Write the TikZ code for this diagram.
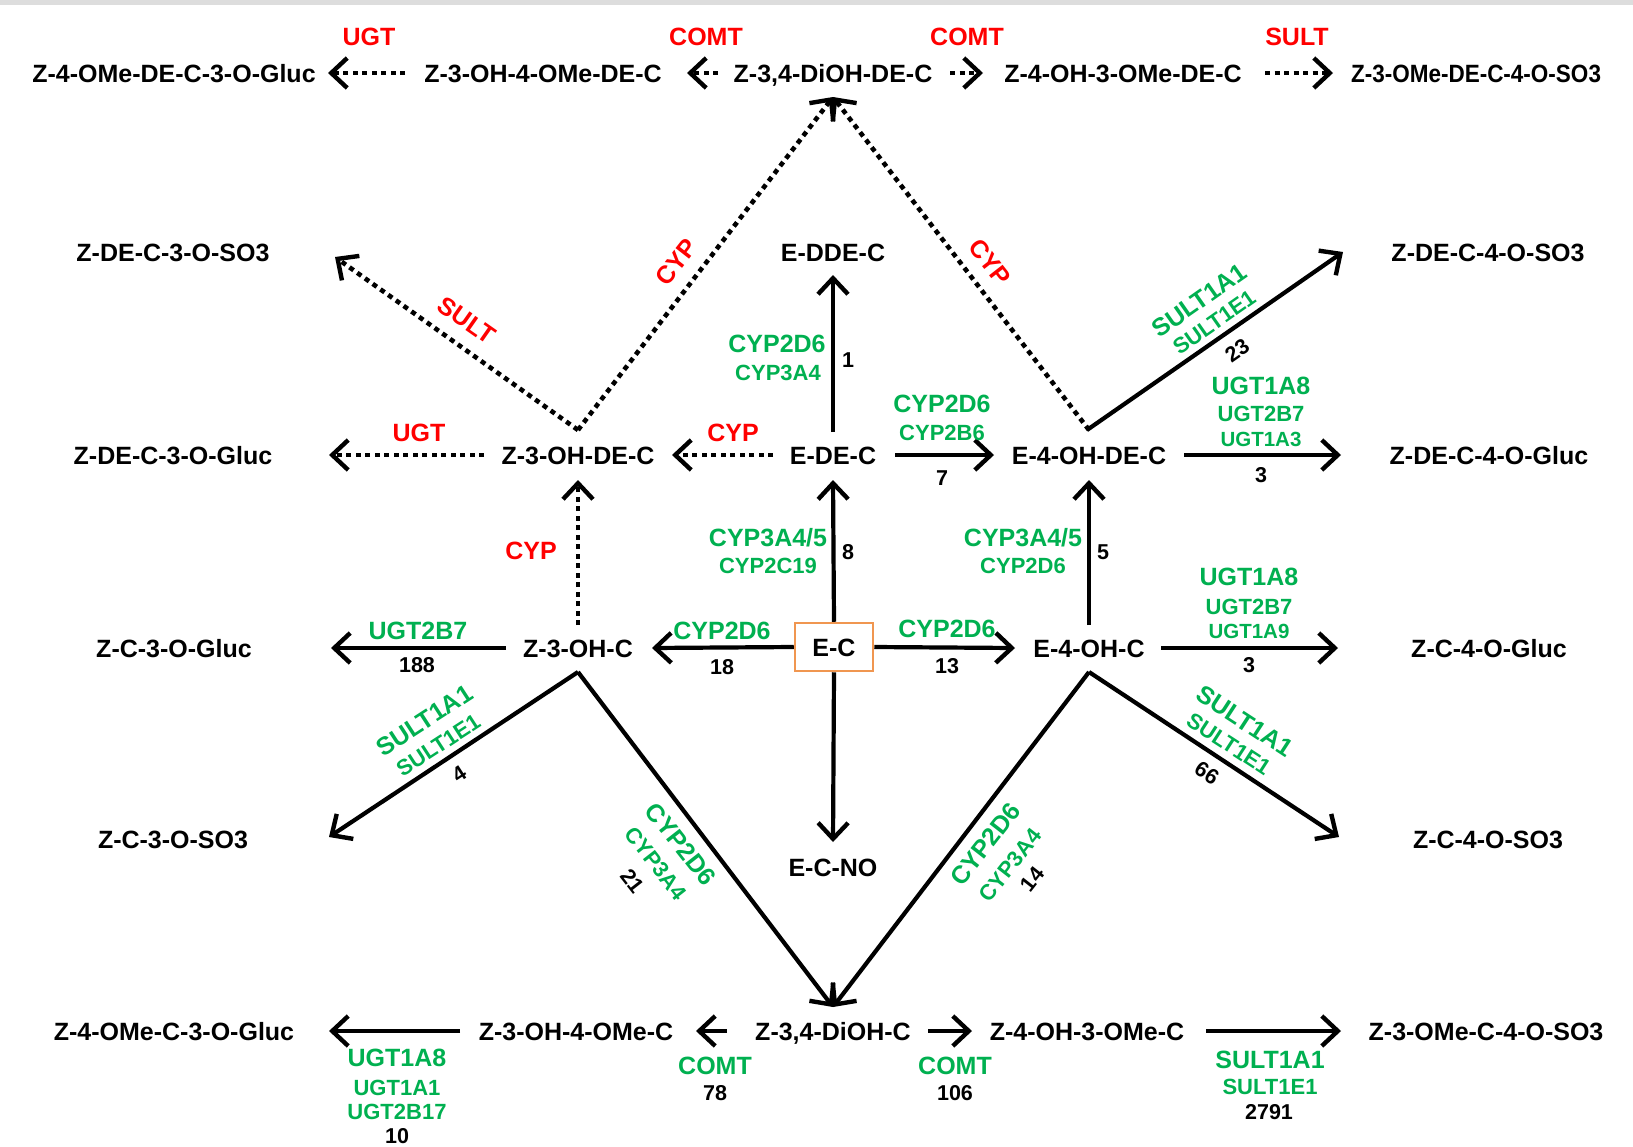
\documentclass[tikz,border=0pt]{standalone}
\usepackage{fontspec}
\setmainfont{Liberation Sans}
\usetikzlibrary{arrows.meta,calc}
\definecolor{enzgreen}{RGB}{0,176,80}
\definecolor{enzred}{RGB}{255,0,0}
\definecolor{boxorange}{RGB}{240,150,80}
\definecolor{bandgray}{RGB}{221,221,221}
\begin{document}
\begin{tikzpicture}[x=1pt,y=-1pt,
  met/.style={font=\bfseries\fontsize{25}{25}\selectfont, inner sep=0pt, text height=18pt, text depth=0pt},
  enzA/.style={font=\bfseries\fontsize{25}{25}\selectfont, text=enzgreen, inner sep=0pt, text height=18pt, text depth=0pt},
  enzB/.style={font=\bfseries\fontsize{22}{22}\selectfont, text=enzgreen, inner sep=0pt, text height=16pt, text depth=0pt},
  enzC/.style={font=\bfseries\fontsize{20.5}{20.5}\selectfont, text=enzgreen, inner sep=0pt, text height=15pt, text depth=0pt},
  fam/.style={font=\bfseries\fontsize{25}{25}\selectfont, text=enzred, inner sep=0pt, text height=18pt, text depth=0pt},
  num/.style={font=\bfseries\fontsize{21.5}{21.5}\selectfont, inner sep=0pt, text height=15.5pt, text depth=0pt},
  arr/.style={line width=4.2pt, -{Straight Barb[length=16pt,width=30pt,line width=4.4pt]}},
  darr/.style={arr, line width=4.6pt, dash pattern=on 5pt off 4.5pt}]
\useasboundingbox (0,0) rectangle (1633,1146);
\fill[bandgray] (0,0) rectangle (1633,5);

% ---- metabolites ----
\node[met] (tgluc)  at (174,73)  {Z-4-OMe-DE-C-3-O-Gluc};
\node[met] (tohome) at (543,73)  {Z-3-OH-4-OMe-DE-C};
\node[met] (tdioh)  at (833,73)  {Z-3,4-DiOH-DE-C};
\node[met] (tohmeo) at (1123,73) {Z-4-OH-3-OMe-DE-C};
\node[met] (tso3)   at (1476,73) {\scalebox{0.9}[1]{Z-3-OMe-DE-C-4-O-SO3}};

\node[met] (so3l) at (173,252)  {Z-DE-C-3-O-SO3};
\node[met] (edde) at (833,252)  {E-DDE-C};
\node[met] (so3r) at (1488,252) {Z-DE-C-4-O-SO3};

\node[met] (glucl) at (173,455)  {Z-DE-C-3-O-Gluc};
\node[met] (zohde) at (578,455)  {Z-3-OH-DE-C};
\node[met] (ede)   at (833,455)  {E-DE-C};
\node[met] (eohde) at (1089,455) {E-4-OH-DE-C};
\node[met] (glucr) at (1489,455) {Z-DE-C-4-O-Gluc};

\node[met] (cglucl) at (174,648)  {Z-C-3-O-Gluc};
\node[met] (zoh)    at (578,648)  {Z-3-OH-C};
\node[met, draw=boxorange, line width=2.5pt, minimum width=78pt, minimum height=48pt] (ec) at (834,647) {E-C};
\node[met] (eoh)    at (1089,648) {E-4-OH-C};
\node[met] (cglucr) at (1489,648) {Z-C-4-O-Gluc};

\node[met] (cso3l) at (173,839)  {Z-C-3-O-SO3};
\node[met] (ecno)  at (833,867)  {E-C-NO};
\node[met] (cso3r) at (1488,839) {Z-C-4-O-SO3};

\node[met] (bgluc)  at (174,1031)  {Z-4-OMe-C-3-O-Gluc};
\node[met] (bohome) at (576,1031)  {Z-3-OH-4-OMe-C};
\node[met] (bdioh)  at (833,1031)  {Z-3,4-DiOH-C};
\node[met] (bohmeo) at (1087,1031) {Z-4-OH-3-OMe-C};
\node[met] (bso3)   at (1486,1031) {Z-3-OMe-C-4-O-SO3};

% ---- predicted (dotted) routes ----
\draw[darr] ($(tohome)+(-138,0)$) -- ($(tgluc)+(154,0)$);
\draw[darr] ($(tdioh)+(-115,0)$) -- ($(tdioh)+(-146,0)$);
\draw[darr] ($(tdioh)+(117,0)$) -- ($(tdioh)+(150,0)$);
\draw[darr] ($(tohmeo)+(142,0)$) -- ($(tso3)+(-143,0)$);
\draw[darr] ($(zohde)+(0,-25)$) -- ($(so3l)+(162,5)$);
\draw[darr] ($(zohde)+(0,-25)$) -- ($(tdioh)+(0,24)$);
\draw[darr] ($(eohde)+(0,-25)$) -- ($(tdioh)+(0,24)$);
\draw[darr] ($(zohde)+(-94,0)$) -- ($(glucl)+(156,0)$);
\draw[darr] ($(ede)+(-60,0)$) -- ($(zohde)+(94,0)$);
\draw[darr] ($(zoh)+(0,-23)$) -- ($(zohde)+(0,25)$);

% ---- observed routes ----
\draw[arr] ($(ede)+(0,-23)$) -- ($(edde)+(0,23)$);
\draw[arr] ($(ede)+(62,0)$) -- ($(eohde)+(-95,0)$);
\draw[arr] ($(eohde)+(95,0)$) -- ($(glucr)+(-148,0)$);
\draw[arr] ($(eohde)+(-2,-25)$) -- ($(so3r)+(-145,0)$);
\draw[arr] (ec.north) -- ($(ede)+(0,25)$);
\draw[arr] ($(eoh)+(0,-23)$) -- ($(eohde)+(0,25)$);
\draw[arr] (ec.south) -- ($(ecno)+(0,-25)$);
\draw[arr] ($(zoh)+(-72,0)$) -- ($(cglucl)+(157,0)$);
\draw[arr] (ec.west) -- ($(zoh)+(74,0)$);
\draw[arr] (ec.east) -- ($(eoh)+(-74,0)$);
\draw[arr] ($(eoh)+(72,0)$) -- ($(cglucr)+(-151,0)$);
\draw[arr] ($(zoh)+(0,24)$) -- ($(cso3l)+(156,-2)$);
\draw[arr] ($(zoh)+(0,24)$) -- ($(bdioh)+(0,-24)$);
\draw[arr] ($(eoh)+(0,24)$) -- ($(bdioh)+(0,-24)$);
\draw[arr] ($(eoh)+(0,24)$) -- ($(cso3r)+(-149,-2)$);
\draw[arr] ($(bohome)+(-116,0)$) -- ($(bgluc)+(155,0)$);
\draw[arr] ($(bdioh)+(-106,0)$) -- ($(bohome)+(120,0)$);
\draw[arr] ($(bdioh)+(95,0)$) -- ($(bohmeo)+(-115,0)$);
\draw[arr] ($(bohmeo)+(119,0)$) -- ($(bso3)+(-145,0)$);

% ---- enzyme families (predicted) ----
\node[fam] (f1) at (369,36) {UGT};
\node[fam] (f2) at (706,36) {COMT};
\node[fam] (f3) at (967,36) {COMT};
\node[fam] (f4) at (1297,36) {SULT};
\node[fam, rotate=-35] (f5) at (467,320) {SULT};
\node[fam, rotate=52] (f6) at (676,262) {CYP};
\node[fam, rotate=-52] (f7) at (990,262) {CYP};
\node[fam] (f8) at (733,432) {CYP};
\node[fam] (f9) at (419,432) {UGT};
\node[fam] (f10) at (531,550) {CYP};

% ---- enzymes and rates ----
\node[enzA] (e1a) at (777,343) {CYP2D6};
\node[enzB] (e1b) at (778,372) {CYP3A4};
\node[num]  (n1)  at (848,360) {1};

\node[enzA] (e2a) at (942,403) {CYP2D6};
\node[enzB] (e2b) at (942,432) {CYP2B6};
\node[num]  (n2)  at (942,478) {7};

\node[enzA] (e3a) at (1261,385) {UGT1A8};
\node[enzB] (e3b) at (1261,413) {UGT2B7};
\node[enzC] (e3c) at (1261,439) {UGT1A3};
\node[num]  (n3)  at (1261,475) {3};

\node[enzA, rotate=35] (e4a) at (1199,300) {SULT1A1};
\node[enzB, rotate=35] (e4b) at (1214,322) {SULT1E1};
\node[num,  rotate=35] (n4)  at (1237,350) {23};

\node[enzA] (e5a) at (768,537) {CYP3A4/5};
\node[enzB] (e5b) at (768,565) {CYP2C19};
\node[num]  (n5)  at (848,552) {8};

\node[enzA] (e6a) at (1023,537) {CYP3A4/5};
\node[enzB] (e6b) at (1023,565) {CYP2D6};
\node[num]  (n6)  at (1103,552) {5};

\node[enzA] (e7a) at (418,630) {UGT2B7};
\node[num]  (n7)  at (417,665) {188};

\node[enzA] (e8a) at (722,630) {CYP2D6};
\node[num]  (n8)  at (722,667) {18};

\node[enzA] (e9a) at (947,628) {CYP2D6};
\node[num]  (n9)  at (947,666) {13};

\node[enzA] (e10a) at (1249,576) {UGT1A8};
\node[enzB] (e10b) at (1249,606) {UGT2B7};
\node[enzC] (e10c) at (1249,631) {UGT1A9};
\node[num]  (n10)  at (1249,665) {3};

\node[enzA, rotate=33] (e11a) at (424,720) {SULT1A1};
\node[enzB, rotate=33] (e11b) at (438,745) {SULT1E1};
\node[num,  rotate=33] (n11)  at (459,774) {4};

\node[enzA, rotate=-33] (e12a) at (1245,721) {SULT1A1};
\node[enzB, rotate=-33] (e12b) at (1229,744) {SULT1E1};
\node[num,  rotate=-33] (n12)  at (1207,773) {66};

\node[enzA, rotate=-52] (e13a) at (681,844) {CYP2D6};
\node[enzB, rotate=-52] (e13b) at (656,863) {CYP3A4};
\node[num,  rotate=-52] (n13)  at (633,881) {21};

\node[enzA, rotate=52] (e14a) at (985,844) {CYP2D6};
\node[enzB, rotate=52] (e14b) at (1010,865) {CYP3A4};
\node[num,  rotate=52] (n14)  at (1032,879) {14};

\node[enzA] (e15a) at (397,1057) {UGT1A8};
\node[enzB] (e15b) at (397,1087) {UGT1A1};
\node[enzB] (e15c) at (397,1111) {UGT2B17};
\node[num]  (n15)  at (397,1136) {10};

\node[enzA] (e16a) at (715,1065) {COMT};
\node[num]  (n16)  at (715,1093) {78};

\node[enzA] (e17a) at (955,1065) {COMT};
\node[num]  (n17)  at (955,1093) {106};

\node[enzA] (e18a) at (1270,1059) {SULT1A1};
\node[enzB] (e18b) at (1270,1086) {SULT1E1};
\node[num]  (n18)  at (1269,1112) {2791};
\end{tikzpicture}
\end{document}
